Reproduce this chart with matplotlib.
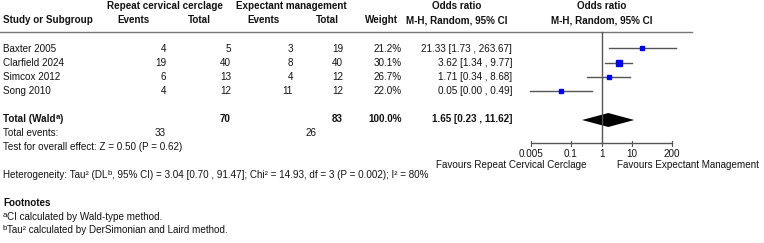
import numpy as np
import matplotlib
matplotlib.use("Agg")
import matplotlib.pyplot as plt
from matplotlib import font_manager as fm
from matplotlib.font_manager import FontProperties

# ---------------- data ----------------
studies = ["Baxter 2005", "Clarfield 2024", "Simcox 2012", "Song 2010"]
events_rcc = [4, 19, 6, 4]
total_rcc = [5, 40, 13, 12]
events_em = [3, 8, 4, 11]
total_em = [19, 40, 12, 12]
weights = [21.2, 30.1, 26.7, 22.0]
odds_ratio = [21.33, 3.62, 1.71, 0.046]
ci_low = [1.73, 1.34, 0.34, 0.0046]
ci_high = [263.67, 9.77, 8.68, 0.49]
pooled_or = 1.65
pooled_low = 0.23
pooled_high = 11.62
tick_values = [0.005, 0.1, 1, 10, 200]
tick_labels = ["0.005", "0.1", "1", "10", "200"]

# ---------------- fonts ----------------
def find_font(fname):
    for p in fm.findSystemFonts():
        if p.endswith(fname):
            return p
    return None

reg_path = find_font("LiberationSans-Regular.ttf")
bold_path = find_font("LiberationSans-Bold.ttf")
FS = 7.1
def fp(bold=False, size=FS):
    path = bold_path if bold else reg_path
    if path:
        return FontProperties(fname=path, size=size)
    return FontProperties(family='Liberation Sans', weight='bold' if bold else 'normal', size=size)

# ---------------- layout ----------------
W, H = 764, 243
fig = plt.figure(figsize=(W / 100, H / 100), dpi=100)
tax = fig.add_axes([0, 0, 1, 1])
tax.set_xlim(0, W)
tax.set_ylim(H, 0)
tax.axis('off')
renderer = fig.canvas.get_renderer()

TXT = '#111111'
def T(x, y, s, ha='left', bold=False, size=FS, color=TXT):
    return tax.text(x, y + 3.4, s, ha=ha, va='baseline', fontproperties=fp(bold, size), color=color)

def TS(x, y, segments, bold=False):
    """segments: list of (text, is_superscript); drawn left to right."""
    cx = x
    for s, sup in segments:
        if sup:
            t = tax.text(cx, y + 3.4 - 3.0, s, ha='left', va='baseline',
                         fontproperties=fp(bold, FS * 0.8), color=TXT)
        else:
            t = tax.text(cx, y + 3.4, s, ha='left', va='baseline',
                         fontproperties=fp(bold, FS), color=TXT)
        bb = t.get_window_extent(renderer=renderer)
        cx += bb.width  # pixels == data units here

# headers
T(165, 6, "Repeat cervical cerclage", ha='center', bold=True)
T(291, 6, "Expectant management", ha='center', bold=True)
T(457, 6, "Odds ratio", ha='center', bold=True)
T(602, 6, "Odds ratio", ha='center', bold=True)
T(3, 20, "Study or Subgroup", bold=True)
T(133, 20, "Events", ha='center', bold=True)
T(199, 20, "Total", ha='center', bold=True)
T(263, 20, "Events", ha='center', bold=True)
T(327, 20, "Total", ha='center', bold=True)
T(381, 20, "Weight", ha='center', bold=True)
T(457, 20, "M-H, Random, 95% CI", ha='center', bold=True)
T(602, 20, "M-H, Random, 95% CI", ha='center', bold=True)

tax.plot([0, 692], [32.5, 32.5], color='#777777', lw=1.0)

row_y = [48.5, 63, 77, 91]
for i, name in enumerate(studies):
    y = row_y[i]
    T(3, y, name)
    T(166, y, str(events_rcc[i]), ha='right')
    T(231, y, str(total_rcc[i]), ha='right')
    T(293, y, str(events_em[i]), ha='right')
    T(343, y, str(total_em[i]), ha='right')
    T(402, y, f"{weights[i]:.1f}%", ha='right')
    T(512, y, f"{odds_ratio[i]:.2f} [{ci_low[i]:.2f} , {ci_high[i]:.2f}]", ha='right')

ty = 119
TS(3, ty, [("Total (Wald", False), ("a", True), (")", False)], bold=True)
T(231, ty, str(sum(total_rcc)), ha='right', bold=True)
T(343, ty, str(sum(total_em)), ha='right', bold=True)
T(402, ty, f"{sum(weights):.1f}%", ha='right', bold=True)
T(512, ty, f"{pooled_or:.2f} [{pooled_low:.2f} , {pooled_high:.2f}]", ha='right', bold=True)

T(3, 133, "Total events:")
T(166, 133, str(sum(events_rcc)), ha='right')
T(316, 133, str(sum(events_em)), ha='right')
T(3, 147, "Test for overall effect: Z = 0.50 (P = 0.62)")

TS(3, 175, [("Heterogeneity: Tau² (DL", False), ("b", True),
            (", 95% CI) = 3.04 [0.70 , 91.47]; Chi² = 14.93, df = 3 (P = 0.002); I² = 80%", False)])
T(3, 203, "Footnotes", bold=True)
TS(3, 217, [("a", True), ("CI calculated by Wald-type method.", False)])
TS(3, 230, [("b", True), ("Tau² calculated by DerSimonian and Laird method.", False)])

# ---------------- forest plot ----------------
x_one = 601.6
ppd = 30.64  # pixels per decade
ax_l, ax_r = 440, 700
fax = fig.add_axes([ax_l / W, 0, (ax_r - ax_l) / W, 1])
fax.set_xscale('log')
fax.set_xlim(10 ** ((ax_l - x_one) / ppd), 10 ** ((ax_r - x_one) / ppd))
fax.set_ylim(H, 0)
fax.axis('off')

axis_y = 143
LC = '#555555'
fax.plot([1, 1], [32.5, axis_y], color=LC, lw=1.0)
fax.plot([tick_values[0], tick_values[-1]], [axis_y, axis_y], color=LC, lw=1.0)
for v, lab in zip(tick_values, tick_labels):
    fax.plot([v, v], [axis_y - 2.5, axis_y + 2.5], color=LC, lw=0.8)
    fax.text(v, axis_y + 13.5, lab, ha='center', va='baseline', fontproperties=fp(), color=TXT)

fax.text(0.334, 167.5, "Favours Repeat Cervical Cerclage", ha='right', va='baseline',
         fontproperties=fp(), color=TXT)
fax.text(3.18, 167.5, "Favours Expectant Management", ha='left', va='baseline',
         fontproperties=fp(), color=TXT)

for i in range(len(studies)):
    y = row_y[i]
    fax.plot([ci_low[i], ci_high[i]], [y, y], color=LC, lw=1.0, clip_on=False)
    ms = 0.66 * np.sqrt(weights[i])
    fax.plot([odds_ratio[i]], [y], marker='s', ms=ms, color='#0000ff', mec='#0000ff', clip_on=False)

dy = 7
fax.fill([pooled_low, pooled_or, pooled_high, pooled_or],
         [ty + 1, ty + 1 - dy, ty + 1, ty + 1 + dy], color='black', lw=0)

fig.savefig("out.png", dpi=100)
